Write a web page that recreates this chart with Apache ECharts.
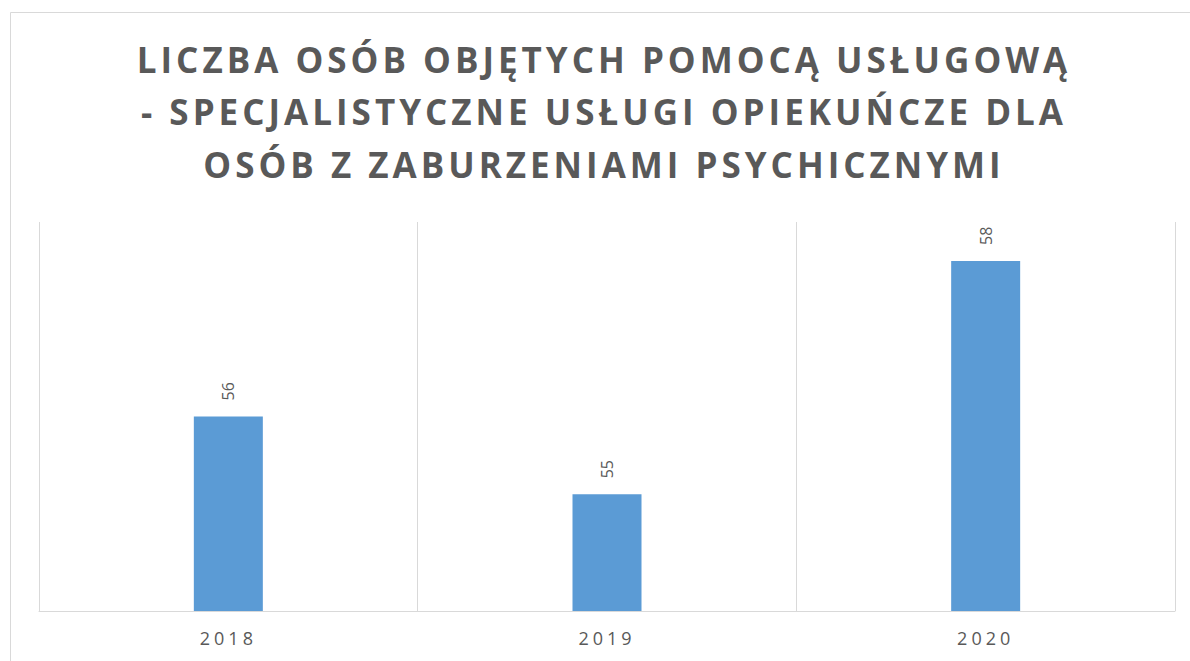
<!DOCTYPE html>
<html>
<head>
<meta charset="utf-8">
<script src="https://cdn.jsdelivr.net/npm/echarts@6/dist/echarts.min.js"></script>
<style>
	html, body { margin: 0; padding: 0; background: #fff; }
	#chart { width: 1190px; height: 661px; }
	/* Excel-like spaced lettering for title and axis labels */
	#chart text[style*="bold"] { letter-spacing: 4px; }
	#chart text[style*="18px"] { letter-spacing: 4px; }
</style>
</head>
<body>
<div id="chart"></div>
<script>
	var titleText = 'LICZBA OSÓB OBJĘTYCH POMOCĄ USŁUGOWĄ\n- SPECJALISTYCZNE USŁUGI OPIEKUŃCZE DLA\nOSÓB Z ZABURZENIAMI PSYCHICZNYMI';
	var years = ['2018', '2019', '2020'];
	var persons = [56, 55, 58];

	//------------------------图表-开始------------------//
	var myChart = echarts.init(document.getElementById('chart'), null, {renderer: 'svg'});
	var option = {
		animation: false,
		backgroundColor: '#fff',
		graphic: [
			{
				type: 'rect',
				shape: { x: 10.5, y: 12.5, width: 1200, height: 700 },
				style: { fill: 'none', stroke: '#d9d9d9', lineWidth: 1 },
				silent: true
			}
		],
		title: {
			text: titleText,
			left: 599,
			textAlign: 'center',
			top: 28,
			textStyle: {
				fontFamily: 'Open Sans',
				fontWeight: 'bold',
				fontSize: 35,
				lineHeight: 52.5,
				color: '#595959'
			}
		},
		grid: {
			left: 39,
			right: 15,
			top: 222,
			bottom: 50
		},
		xAxis: {
			type: 'category',
			data: years,
			axisLine: { lineStyle: { color: '#d9d9d9', width: 1 } },
			axisTick: { show: false },
			splitLine: { show: true, lineStyle: { color: '#d9d9d9', width: 1 } },
			axisLabel: {
				fontFamily: 'Open Sans',
				fontSize: 18,
				color: '#595959',
				margin: 18
			}
		},
		yAxis: {
			type: 'value',
			min: 53.5,
			max: 58.5,
			show: false,
			splitLine: { show: false }
		},
		series: [
			{
				type: 'bar',
				data: persons,
				barWidth: 69,
				itemStyle: { color: '#5b9bd5' },
				label: {
					show: true,
					position: 'top',
					rotate: 90,
					align: 'left',
					verticalAlign: 'middle',
					distance: 16,
					fontFamily: 'Open Sans',
					fontSize: 16,
					color: '#595959'
				}
			}
		]
	};
	myChart.setOption(option);
	//------------------------图表-结束------------------//
</script>
</body>
</html>
